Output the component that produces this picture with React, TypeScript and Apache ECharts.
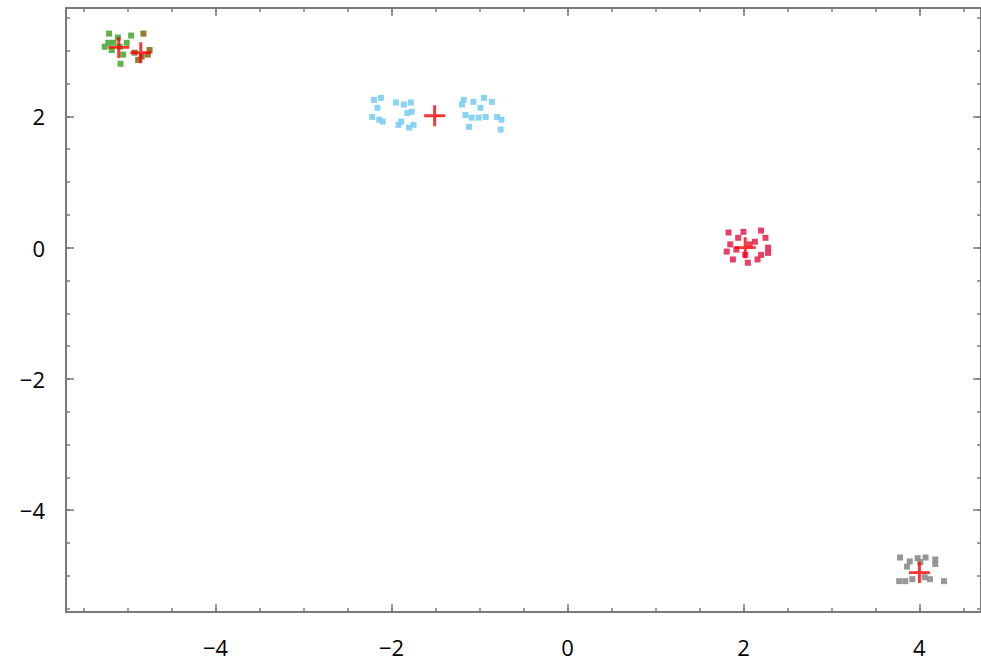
import React, { useEffect, useRef } from "react";
import * as echarts from "echarts";

// Cluster points (x, y)
const greenPts: number[][] = [
  [-5.21, 3.26], [-4.96, 3.23], [-5.22, 3.12], [-5.16, 3.12], [-5.01, 3.12],
  [-5.18, 3.01], [-5.05, 2.94], [-5.08, 2.80], [-5.11, 3.2], [-5.26, 3.06], [-5.09, 3.06],
];
const brownPts: number[][] = [
  [-4.82, 3.26], [-4.88, 2.86], [-4.77, 2.94], [-4.92, 2.97], [-4.84, 2.91], [-4.75, 3.01],
];
const cyanPts: number[][] = [
  [-2.2, 2.25], [-2.12, 2.28], [-2.16, 2.13], [-2.22, 1.99], [-2.14, 1.95], [-2.1, 1.92],
  [-1.95, 2.21], [-1.86, 2.18], [-1.78, 2.21], [-1.82, 2.05], [-1.77, 2.07], [-1.89, 1.92],
  [-1.92, 1.87], [-1.8, 1.83], [-1.75, 1.87],
  [-1.18, 2.25], [-1.2, 2.18], [-1.07, 2.22], [-0.95, 2.28], [-0.86, 2.22], [-0.99, 2.13],
  [-1.16, 2.02], [-1.09, 1.98], [-1.01, 1.98], [-0.93, 1.99], [-0.8, 1.99], [-0.75, 1.95],
  [-1.12, 1.84], [-0.76, 1.8],
];
const crimsonPts: number[][] = [
  [1.83, 0.23], [2.0, 0.24], [2.2, 0.26], [1.94, 0.15], [2.13, 0.09], [2.25, 0.15],
  [1.85, 0.05], [1.81, -0.06], [1.92, -0.03], [2.28, 0.0], [1.88, -0.18], [2.05, -0.23],
  [2.16, -0.18], [2.2, -0.11], [2.02, -0.11], [2.28, -0.08], [2.07, 0.05],
];
const grayPts: number[][] = [
  [3.78, -4.72], [3.89, -4.78], [3.98, -4.73], [4.07, -4.72], [4.18, -4.75], [4.18, -4.82],
  [3.86, -4.86], [3.77, -5.08], [3.84, -5.08], [3.92, -5.05], [4.06, -5.02], [4.12, -5.05],
  [4.28, -5.08], [4.01, -4.79],
];
const centroids: number[][] = [
  [-5.1, 3.05], [-4.85, 2.97], [-1.51, 2.01], [2.02, 0.0], [4.0, -4.95],
];

const xMajorTicks = [-4, -2, 0, 2, 4];
const xMinorTicks = [-5.5, -5, -4.5, -4, -3.5, -3, -2.5, -2, -1.5, -1, -0.5, 0, 0.5, 1, 1.5, 2, 2.5, 3, 3.5, 4, 4.5];
const yMajorTicks = [-4, -2, 0, 2];
const yMinorTicks = [-5.5, -5, -4.5, -4, -3.5, -3, -2.5, -2, -1.5, -1, -0.5, 0, 0.5, 1, 1.5, 2, 2.5, 3, 3.5];

const X_MIN = -5.7, X_MAX = 4.7, Y_MIN = -5.55, Y_MAX = 3.65;
const AXIS_COLOR = "#7a7a7a";
const PLUS = "path://M0,8.6 H20 V11.4 H0 Z M8.6,0 H11.4 V20 H8.6 Z";

export default function App() {
  const ref = useRef<HTMLDivElement>(null);
  useEffect(() => {
    if (!ref.current) return;
    const chart = echarts.init(ref.current, null, { renderer: "svg" });
    const fmt = (v: number) => String(v).replace("-", "\u2212");
    const mkX = (pos: "bottom" | "top", ticks: number[], len: number, labels: boolean, line: boolean) => ({
      type: "value",
      position: pos,
      min: X_MIN,
      max: X_MAX,
      splitLine: { show: false },
      axisLine: { show: line, onZero: false, lineStyle: { color: AXIS_COLOR, width: 2 } },
      axisTick: { show: true, inside: true, length: len, customValues: ticks, lineStyle: { color: AXIS_COLOR, width: 1.5 } },
      axisLabel: labels
        ? { show: true, customValues: xMajorTicks, formatter: fmt, color: "#000", fontSize: 22, fontFamily: "Open Sans", margin: 24 }
        : { show: false },
    });
    const mkY = (pos: "left" | "right", ticks: number[], len: number, labels: boolean, line: boolean) => ({
      type: "value",
      position: pos,
      min: Y_MIN,
      max: Y_MAX,
      splitLine: { show: false },
      axisLine: { show: line, onZero: false, lineStyle: { color: AXIS_COLOR, width: 2 } },
      axisTick: { show: true, inside: true, length: len, customValues: ticks, lineStyle: { color: AXIS_COLOR, width: 1.5 } },
      axisLabel: labels
        ? { show: true, customValues: yMajorTicks, formatter: fmt, color: "#000", fontSize: 22, fontFamily: "Open Sans", margin: 21 }
        : { show: false },
    });
    const pts = (data: number[][], color: string, name: string) => ({
      name,
      type: "scatter",
      data,
      symbol: "rect",
      symbolSize: 6,
      itemStyle: { color, opacity: 0.9 },
      xAxisIndex: 0,
      yAxisIndex: 0,
    });
    chart.setOption({
      animation: false,
      backgroundColor: "#fff",
      grid: { left: 66, top: 8, width: 918, height: 604, containLabel: false },
      xAxis: [
        mkX("bottom", xMinorTicks, 4, true, true),
        mkX("bottom", xMajorTicks, 8, false, false),
        mkX("top", xMinorTicks, 4, false, true),
        mkX("top", xMajorTicks, 8, false, false),
      ],
      yAxis: [
        mkY("left", yMinorTicks, 4, true, true),
        mkY("left", yMajorTicks, 8, false, false),
        mkY("right", yMinorTicks, 4, false, true),
        mkY("right", yMajorTicks, 8, false, false),
      ],
      series: [
        pts(greenPts, "#4fa83d", "c1"),
        pts(brownPts, "#8a6a1e", "c2"),
        pts(cyanPts, "#7ccff3", "c3"),
        pts(crimsonPts, "#e62a55", "c4"),
        pts(grayPts, "#8c8c8c", "c5"),
        {
          name: "centroids",
          type: "scatter",
          data: centroids,
          symbol: PLUS,
          symbolSize: 21,
          itemStyle: { color: "#ff0000" },
          z: 5,
          xAxisIndex: 0,
          yAxisIndex: 0,
        },
      ],
    });
    return () => chart.dispose();
  }, []);
  return <div ref={ref} style={{ position: "absolute", left: 0, top: 0, width: 981, height: 668, background: "#fff" }} />;
}
